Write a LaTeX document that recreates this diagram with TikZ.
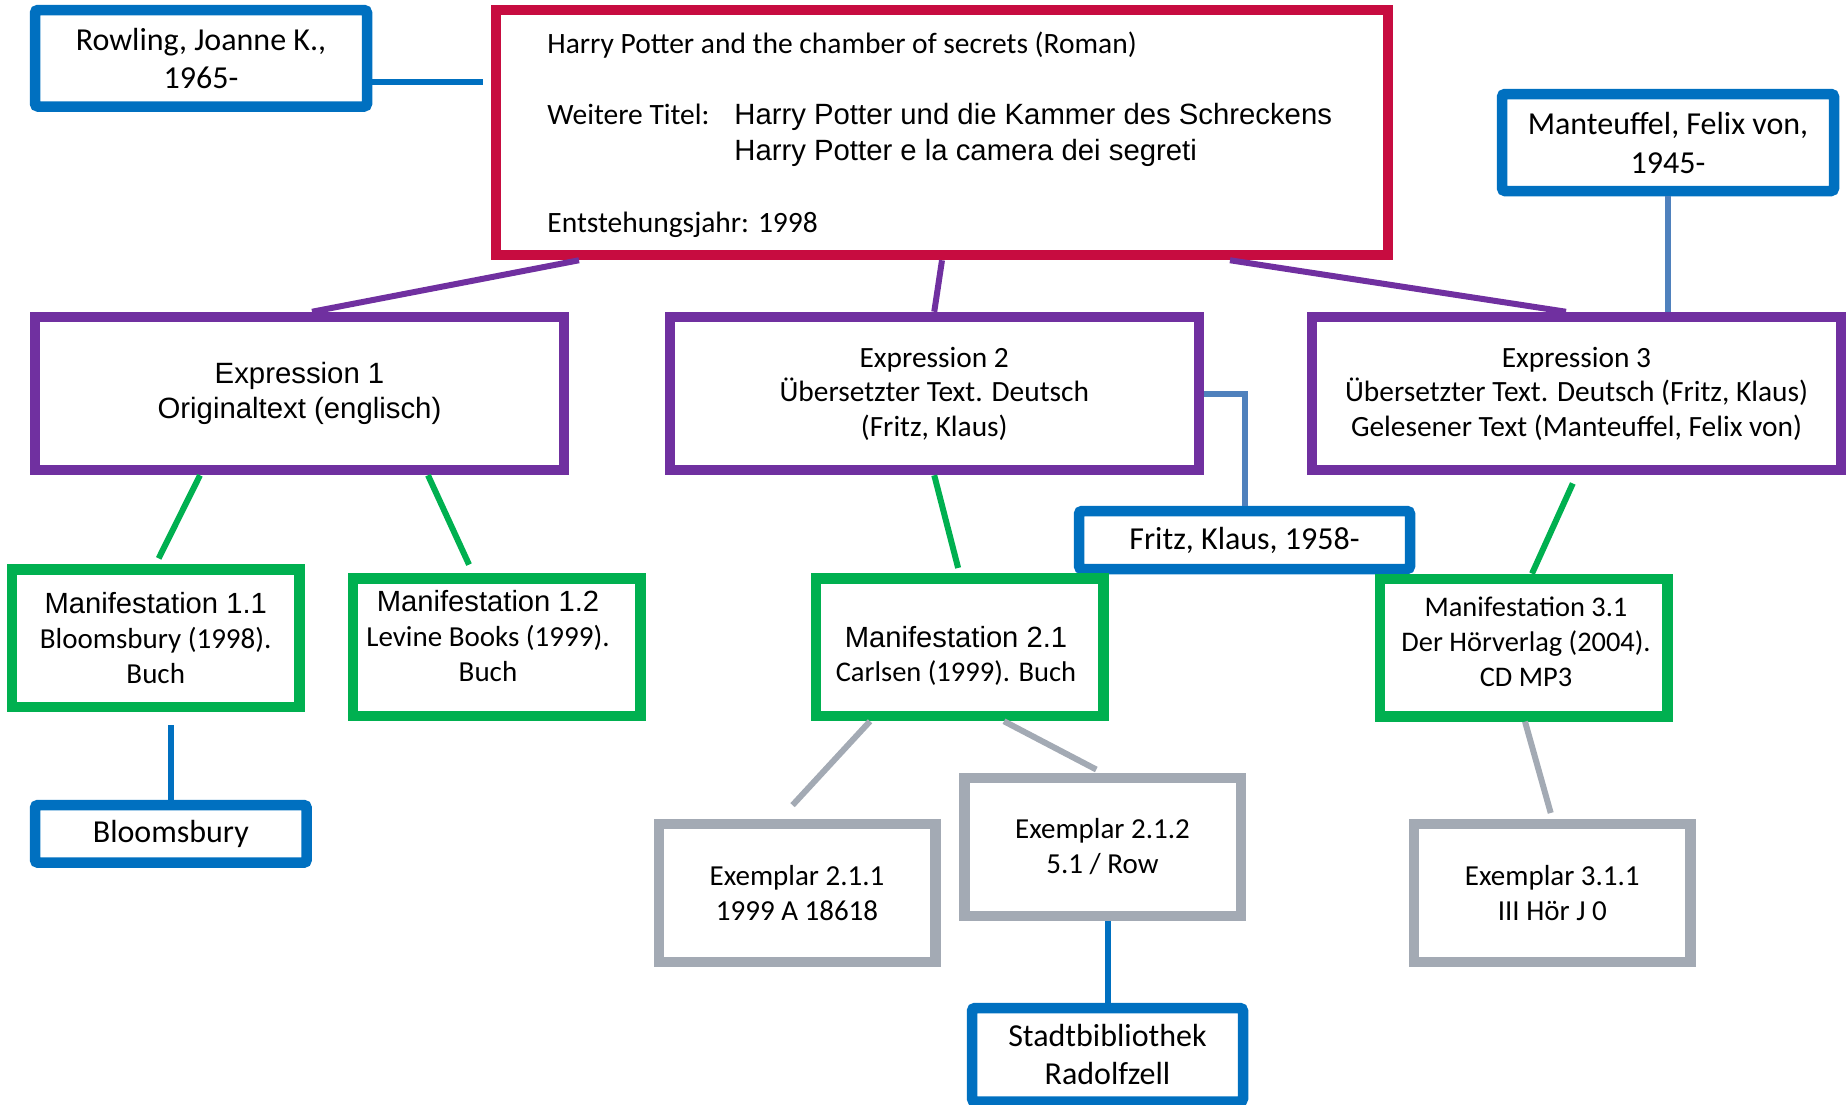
\documentclass[tikz,border=0pt]{standalone}
\usepackage{fontspec}
\setmainfont{Carlito}
\newfontfamily\arialfont{Liberation Sans}
\usepackage{xcolor}

\definecolor{personblue}{HTML}{0070C0}
\definecolor{linkblue}{HTML}{4F81BD}
\definecolor{werkred}{HTML}{C70C40}
\definecolor{exprpurple}{HTML}{7030A0}
\definecolor{manifgreen}{HTML}{00B050}
\definecolor{exemplgray}{HTML}{A3AAB4}

\begin{document}
\begin{tikzpicture}[
        x=0.5pt, y=-0.5pt,
        box/.style={rectangle, line width=5.25pt, inner sep=0pt, align=center},
        person/.style={box, draw=personblue, rounded corners=1.5pt, font=\fontsize{16}{19}\selectfont},
        werk/.style={box, draw=werkred, minimum width=446pt, minimum height=122.5pt},
        expression/.style={box, draw=exprpurple, minimum width=264.5pt, minimum height=76.5pt, font=\fontsize{14.7}{17.25}\selectfont},
        manifestation/.style={box, draw=manifgreen, minimum width=143.75pt, minimum height=68.75pt, font=\fontsize{14.5}{17.5}\selectfont},
        exemplar/.style={box, draw=exemplgray, minimum width=138.25pt, minimum height=69pt, font=\fontsize{14.5}{17.5}\selectfont},
        werktext/.style={anchor=base west, inner sep=0pt, font=\fontsize{14.75}{17}\selectfont},
        boxtext/.style={inner sep=0pt, align=center},
        link/.style={line width=3pt},
    ]
    \useasboundingbox (0,0) rectangle (1848,1104);

    % Werk
    \node[werk] (work) at (942,132.5) {};
    \node[werktext] (worktitle) at (547,53) {Harry Potter and the chamber of secrets (Roman)};
    \node[werktext] (workweitere) at (547,124) {Weitere Titel:};
    \node[werktext, font=\arialfont\fontsize{14.65}{18}\selectfont] (worktitelde) at (734,124) {Harry Potter und die Kammer des Schreckens};
    \node[werktext, font=\arialfont\fontsize{14.65}{18}\selectfont] (worktitelit) at (734,160) {Harry Potter e la camera dei segreti};
    \node[werktext] (workjahr) at (547,232) {Entstehungsjahr: 1998};

    % Personen und Koerperschaften
    \node[person, minimum width=166pt, minimum height=48.25pt] (rowling) at (201,58.25) {Rowling, Joanne K.,\\1965-};
    \node[person, minimum width=166pt, minimum height=48.5pt, font=\fontsize{16}{19.5}\selectfont] (manteuffel) at (1668,142.5) {Manteuffel, Felix von,\\1945-};
    \node[person, minimum width=165.5pt, minimum height=29pt] (fritz) at (1244.5,540) {Fritz, Klaus, 1958-};
    \node[person, minimum width=135.85pt, minimum height=28.85pt] (bloomsbury) at (170.85,833.85) {Bloomsbury};
    \node[person, minimum width=135.5pt, minimum height=46.75pt] (stadt) at (1107.5,1054.75) {Stadtbibliothek\\Radolfzell};

    % Expressionen
    \node[expression, font=\arialfont\fontsize{14.67}{17.35}\selectfont] (exp1) at (299.5,393.5) {Expression 1\\Originaltext (englisch)};
    \node[expression] (exp2) at (934.25,393.5) {Expression 2\\Übersetzter Text. Deutsch\\(Fritz, Klaus)};
    \node[expression] (exp3) at (1576.5,393.5) {Expression 3\\Übersetzter Text. Deutsch (Fritz, Klaus)\\Gelesener Text (Manteuffel, Felix von)};

    % Manifestationen
    \node[manifestation] (man11) at (155.75,638.25) {{\arialfont\fontsize{14.6}{17}\selectfont Manifestation 1.1}\\Bloomsbury (1998).\\Buch};
    \node[manifestation] (man12) at (496.5,647.25) {};
    \node[boxtext, font=\fontsize{14.5}{17.5}\selectfont] (man12text) at (488,636) {{\arialfont\fontsize{14.6}{17}\selectfont Manifestation 1.2}\\Levine Books (1999).\\Buch};
    \node[manifestation] (man21) at (959.5,647.25) {};
    \node[boxtext, font=\fontsize{14.25}{17.15}\selectfont] (man21text) at (956,656) {{\arialfont\fontsize{14.6}{17}\selectfont Manifestation 2.1}\\Carlsen (1999). Buch};
    \node[manifestation] (man31) at (1523.5,647.6) {};
    \node[boxtext, font=\fontsize{14.2}{17.6}\selectfont] (man31text) at (1526,642) {Manifestation 3.1\\Der Hörverlag (2004).\\CD MP3};

    % Exemplare
    \node[exemplar] (ex211) at (797,893) {Exemplar 2.1.1\\1999 A 18618};
    \node[exemplar] (ex212) at (1102.5,847) {Exemplar 2.1.2\\5.1 / Row};
    \node[exemplar] (ex311) at (1552.35,893) {Exemplar 3.1.1\\III Hör J 0};

    % Beziehungen
    \draw[link, personblue, shorten >=4pt] (rowling.east |- 0,82) -- (work.west |- 0,82);
    \draw[link, exprpurple] (work.south -| 579,0) -- (exp1.north -| 312,0);
    \draw[link, exprpurple] (work.south) -- (exp2.north);
    \draw[link, exprpurple] (work.south -| 1230,0) -- (exp3.north -| 1566,0);
    \draw[link, linkblue] (manteuffel.south) -- (exp3.north -| manteuffel.south);
    \draw[link, linkblue] (exp2.east) -| (fritz.north);
    \draw[link, manifgreen, shorten >=3.25pt] (exp1.south -| 200,0) -- (man11.north);
    \draw[link, manifgreen, shorten >=4.75pt] (exp1.south -| 428,0) -- (man12.north -| 473,0);
    \draw[link, manifgreen, shorten >=2.75pt] (exp2.south) -- (man21.north);
    \draw[link, manifgreen, shorten <=4.5pt] (exp3.south) -- (man31.north -| 1532,0);
    \draw[link, personblue, shorten <=6.5pt] (bloomsbury.north |- man11.south) -- (bloomsbury.north);
    \draw[link, exemplgray, shorten >=9.25pt] (man21.south -| 870,0) -- (ex211.north -| 780,0);
    \draw[link, exemplgray, shorten >=3.5pt] (man21.south -| 1004,0) -- (ex212.north);
    \draw[link, exemplgray, shorten >=3pt] (man31.south -| 1525,0) -- (ex311.north);
    \draw[link, personblue] (stadt.north |- ex212.south) -- (stadt.north);

\end{tikzpicture}
\end{document}
